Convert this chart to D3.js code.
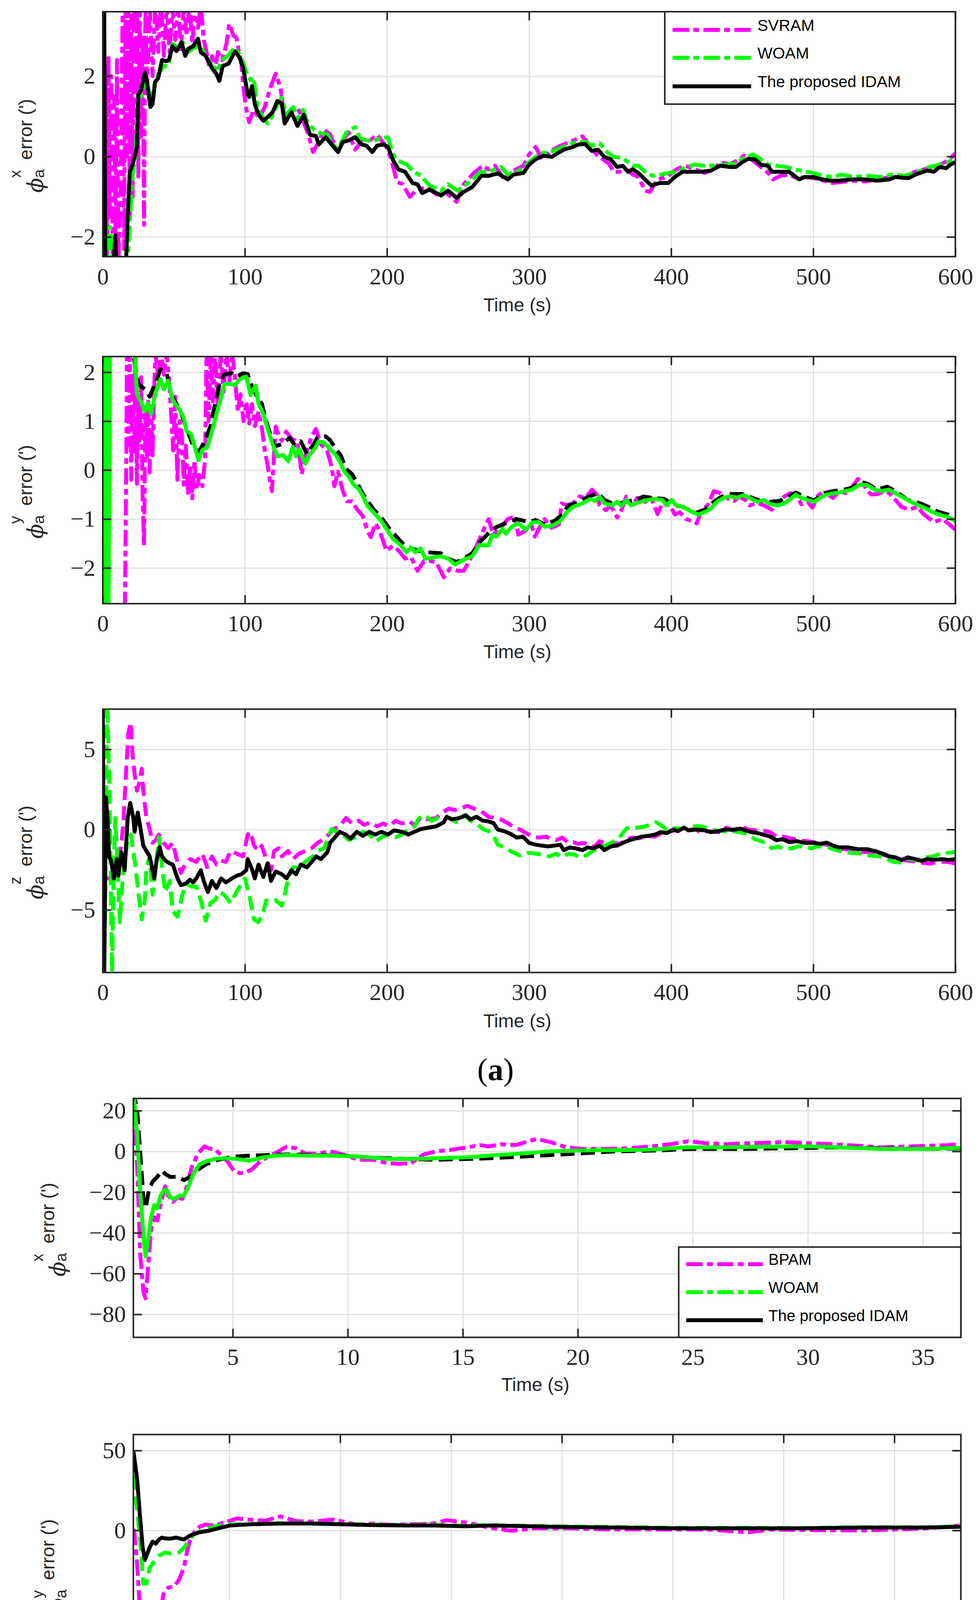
<!DOCTYPE html>
<html>
<head>
<meta charset="utf-8">
<script src="https://cdn.jsdelivr.net/npm/d3@7"></script>
<style>
  body { margin: 0; background: #fff; }
  svg { display: block; }
</style>
</head>
<body>
<svg id="chart" width="2505" height="5514"></svg>
<script>
// ---------- data: [time (s), error (')] ----------

// (a) x axis
var a1Svram = [[0,-3],[1,-3],[2,2.3],[3,-2.6],[4,2.5],[5,-1.5],[6,2.0],[7,-2.6],[8,1.5],[9,-2.0],[10,2.4],[11,-2.6],[12.5,-1.0],[14,3.8],[15,-2.3],[16,3.8],[17,0],[18,3.8],[19,-1.5],[20,3.5],[21,-1.0],[22,3.8],[23,1.0],[24,3.8],[25,-0.5],[26,3.8],[27,0.5],[28,3.0],[29,-1.7],[30,3.8],[31,1.5],[33,3.8],[35,2.0],[37,3.8],[39,2.6],[41,3.8],[43,2.5],[45,3.8],[47,2.6],[49,3.7],[51,2.9],[53,3.8],[55,2.6],[57,3.8],[59,3.0],[61,3.8],[63,2.8],[65,3.8],[67,3.2],[69,3.8],[71,2.9],[73,2.6],[75,2.2],[77,2.5],[79,2.15],[81,2.6],[84,2.4],[87,2.8],[89,3.3],[92,3.0],[94,2.96],[97.6,2.28],[99,1.7],[101,1.16],[103,0.85],[106,1.16],[110,0.95],[114,1.23],[118,1.72],[121.7,2.06],[125,1.72],[128,0.92],[132,1.13],[137,1.23],[140,0.98],[144.7,0.54],[148,0.11],[151,0.3],[155.7,0.67],[160,0.55],[164.5,0.17],[168,0.36],[173,0.6],[177.6,0.17],[183,0.42],[188.6,0.42],[193,0.54],[199.6,0.24],[203,-0.07],[207,-0.63],[211,-0.69],[216,-1.0],[221.5,-0.82],[228,-0.76],[234.6,-0.94],[243,-0.94],[249,-1.13],[254,-0.69],[261,-0.41],[267.5,-0.23],[271.5,-0.32],[276,-0.23],[282.5,-0.57],[289,-0.35],[296,-0.23],[300,0.05],[304.6,0.24],[309,-0.07],[315.6,0.14],[322,0.27],[328.7,0.36],[337.6,0.5],[342,0.3],[347.5,0.05],[352,-0.07],[356,-0.17],[359.6,-0.38],[364,-0.38],[368.4,-0.32],[373,-0.45],[377,-0.51],[381.6,-0.85],[384.9,-0.88],[390.4,-0.57],[397,-0.51],[403.6,-0.32],[410,-0.23],[416.7,-0.32],[423.5,-0.41],[430,-0.32],[434.5,-0.14],[441,-0.2],[448,-0.07],[451,0.02],[456.5,-0.07],[461,-0.2],[465.3,-0.32],[469.5,-0.45],[471.8,-0.57],[477,-0.48],[483,-0.45],[488.4,-0.54],[494,-0.51],[500.6,-0.54],[507,-0.6],[513.8,-0.66],[520.5,-0.63],[529,-0.6],[536,-0.62],[545,-0.57],[555.6,-0.51],[562,-0.51],[571.8,-0.38],[580.8,-0.29],[589,-0.2],[595,-0.1],[600,0.08]];
var a1Woam = [[0,-3],[3,-3],[4,-2.0],[5,-1.75],[6,-2.1],[7,-3],[17,-3],[19,-1.6],[21,-0.45],[23,0.0],[24,0.9],[25.5,1.4],[28,1.6],[30,1.95],[32,1.7],[34,1.35],[37,1.9],[40,2.1],[43,2.25],[46,2.25],[49,2.8],[53,2.7],[56,2.85],[60,2.6],[64,2.7],[68,2.75],[72,2.55],[76,2.3],[80,2.1],[84,2.4],[88,2.5],[93,2.71],[97,2.5],[101,2.1],[104,1.9],[106,1.97],[109,1.2],[113,0.95],[116,0.82],[120,1.05],[123,1.3],[126,1.47],[129,1.05],[134,1.23],[137,0.95],[141,1.16],[144,0.85],[147,0.73],[151,0.6],[154,0.58],[158,0.55],[162,0.3],[165,0.2],[168,0.35],[171,0.58],[174,0.65],[177.6,0.73],[181,0.45],[186,0.4],[190,0.38],[195,0.45],[200.7,0.48],[203,0.2],[206,-0.07],[210,-0.14],[214,-0.2],[218,-0.35],[223.7,-0.48],[230,-0.72],[238,-0.85],[243,-0.69],[249.6,-0.85],[257,-0.66],[266,-0.38],[271.5,-0.38],[280.4,-0.26],[285,-0.45],[293,-0.35],[300,-0.14],[307.8,0.08],[315,0.11],[324,0.24],[333,0.36],[340,0.36],[344,0.27],[349.7,0.33],[355,0.11],[359.6,-0.01],[366,-0.04],[372.8,-0.23],[377,-0.23],[381.6,-0.38],[387,-0.48],[392.6,-0.45],[398,-0.41],[403.6,-0.38],[411,-0.26],[416.5,-0.2],[423,-0.23],[430,-0.23],[439,-0.2],[445.5,-0.17],[451,-0.04],[457.6,0.05],[463,-0.07],[468,-0.2],[474,-0.23],[480.7,-0.26],[487,-0.32],[494.9,-0.38],[500,-0.41],[507,-0.48],[513.5,-0.51],[520,-0.45],[529,-0.51],[538,-0.48],[547,-0.51],[555.6,-0.45],[564.4,-0.48],[573.3,-0.38],[582,-0.26],[589,-0.2],[595,-0.14],[600,-0.04]];
var a1Idam = [[0,3.8],[1,3.8],[1.8,-3],[7,-3],[8.8,-1.96],[10,-3],[16,-3],[17.5,-1.5],[19,-0.38],[21,-0.2],[22.5,0],[24,0.24],[25,1.54],[27,1.66],[29.6,2.09],[31,1.9],[33.5,1.23],[35,1.3],[36.8,1.85],[39,1.95],[41.7,2.4],[44.5,2.37],[46.6,2.4],[49,2.74],[51.8,2.62],[55.5,2.84],[58,2.5],[60.2,2.68],[63.5,2.74],[67,2.93],[69,2.59],[72.4,2.5],[76.8,2.2],[80,2.05],[82,1.88],[84.4,2.25],[88.6,2.31],[93,2.62],[96.3,2.46],[98.7,2.22],[102,1.54],[103,1.48],[105,1.75],[107,1.3],[109.6,1.04],[113,0.89],[116,0.98],[119.5,1.1],[122.8,1.38],[126,1.31],[128,0.82],[132.7,1.1],[137,0.76],[141.4,1.04],[145.8,0.54],[150,0.51],[152,0.3],[156.8,0.48],[161,0.3],[165.6,0.11],[168.9,0.36],[173,0.4],[177.6,0.48],[182,0.3],[185.5,0.27],[189.7,0.11],[193,0.27],[197.4,0.3],[200.7,0.24],[204,-0.07],[208,-0.32],[212.7,-0.38],[218,-0.66],[221.5,-0.69],[224.8,-0.91],[230,-0.82],[238,-0.97],[243,-0.85],[249,-1.03],[254,-0.88],[260,-0.76],[266.4,-0.48],[271.5,-0.48],[278,-0.42],[285,-0.57],[289,-0.45],[296,-0.41],[300,-0.2],[304.6,-0.07],[310,0.02],[316,-0.01],[320,0.08],[324.4,0.17],[331,0.24],[335,0.3],[339.6,0.31],[344,0.14],[348.5,0.17],[353,-0.01],[357.4,-0.07],[362,-0.26],[366,-0.23],[369.5,-0.38],[373,-0.32],[377,-0.41],[381.6,-0.57],[386,-0.72],[392,-0.66],[398,-0.66],[402.5,-0.51],[408,-0.38],[414.6,-0.38],[421,-0.38],[428,-0.35],[434.5,-0.23],[441,-0.26],[445.5,-0.26],[450,-0.14],[454,-0.06],[459,-0.07],[463,-0.2],[468,-0.23],[471,-0.38],[476.7,-0.38],[483,-0.38],[490,-0.57],[494,-0.51],[500,-0.51],[505,-0.56],[511.5,-0.6],[518,-0.6],[527,-0.57],[536,-0.57],[545,-0.6],[553.5,-0.57],[558,-0.51],[567,-0.54],[571.8,-0.45],[580,-0.35],[584.8,-0.38],[589,-0.26],[593.6,-0.29],[596.6,-0.2],[600,-0.14]];

// (a) y axis
var a2Svram = [[0,-3],[15.5,-3],[16.4,-0.3],[17,2.4],[18,0.5],[19,2.4],[20,-0.2],[21,2.0],[22,0.3],[23,2.4],[24,-0.28],[25,1.5],[26,0.6],[27,1.9],[28,-0.5],[29,-1.55],[30,1.2],[31,0.2],[32,1.4],[33,-0.05],[34,1.3],[35,0.3],[36,1.5],[37,2.4],[39,1.9],[41,2.4],[43,1.95],[45,2.4],[46.5,1.9],[48,1.2],[49.5,0.4],[51,1.5],[52.5,-0.2],[54,1.0],[55.5,0.8],[57,-0.3],[58.5,0.5],[60,-0.5],[61.5,0.1],[63,-0.58],[64.5,0.2],[66,-0.4],[68,-0.1],[70,-0.33],[72,0.2],[73,2.4],[74.5,1.0],[76,2.4],[77.5,1.4],[79,2.4],[81,1.2],[83,2.4],[85,1.6],[87,2.4],[89,1.8],[91,2.4],[93,1.9],[95,1.2],[97,1.55],[99,1.0],[101,1.4],[103,0.95],[105,1.35],[107,0.9],[109.6,1.2],[112,0.85],[114,0.4],[116,0.1],[117.5,-0.2],[119,-0.43],[120.5,0.3],[121.7,0.89],[124,0.69],[126,0.6],[129,0.79],[132.7,0.64],[137,0.59],[140,-0.08],[142.5,0.28],[147,0.69],[150,0.84],[153.5,0.53],[158,0.38],[161,0.08],[163,-0.33],[165.5,-0.03],[169,-0.43],[172,-0.64],[175.4,-0.64],[178.7,-0.79],[183,-0.94],[186.4,-1.25],[188.6,-1.37],[191.9,-1.09],[195,-1.25],[199.6,-1.65],[204,-1.55],[208.4,-1.65],[212.7,-1.81],[217,-1.78],[221.5,-2.06],[226,-1.86],[230.3,-1.86],[234.6,-1.88],[240,-2.19],[244.4,-2.01],[250,-2.06],[254,-2.06],[258.8,-1.81],[263,-1.55],[267.5,-1.25],[271.5,-1.0],[274.8,-1.32],[280,-1.18],[285,-1.0],[290,-0.95],[292.4,-1.32],[296.8,-1.25],[302,-1.15],[304,-1.36],[307.8,-1.15],[311,-1.0],[315.6,-1.18],[321,-1.11],[323,-0.68],[326.6,-0.72],[331,-0.68],[335.4,-0.54],[339.8,-0.57],[344.3,-0.4],[347.6,-0.5],[349.7,-0.72],[354.1,-0.82],[357.4,-0.72],[362,-0.97],[365.4,-0.79],[368.4,-0.54],[372.8,-0.72],[376.1,-0.57],[381.6,-0.65],[386,-0.57],[390.4,-0.9],[393.7,-0.68],[399.2,-0.72],[402.6,-0.91],[406,-0.86],[410.3,-1.0],[414.6,-1.04],[418,-1.09],[421.3,-0.82],[425.7,-0.72],[430,-0.43],[434.5,-0.47],[438.9,-0.57],[444.4,-0.63],[447.7,-0.54],[452.1,-0.61],[455,-0.72],[460.8,-0.68],[465.3,-0.72],[470.8,-0.81],[474.1,-0.68],[479.6,-0.54],[484,-0.47],[488.4,-0.54],[491.7,-0.7],[496.1,-0.65],[499.4,-0.77],[502.8,-0.54],[507.2,-0.43],[510.5,-0.5],[513.8,-0.57],[518.2,-0.43],[522.6,-0.47],[527,-0.36],[531.4,-0.18],[534.7,-0.25],[538,-0.43],[541,-0.5],[545.6,-0.49],[550,-0.43],[553.4,-0.47],[557.8,-0.61],[562,-0.75],[567.5,-0.81],[573.2,-0.75],[577.6,-0.9],[582,-1.0],[585.3,-1.06],[590.8,-1.0],[595,-1.09],[600,-1.22]];
var a2Woam = [[0,-3],[1,2.6],[2,-3],[3,2.6],[4,-3],[5,2.6],[22,2.6],[23,2.1],[24,1.55],[26.5,1.42],[29.6,1.2],[31.8,1.37],[34,1.15],[37.3,1.6],[40.6,1.86],[43,1.65],[46,1.83],[49.3,1.42],[53.7,1.25],[57,1.07],[59,0.79],[62,0.74],[64.7,0.48],[67.3,0.2],[70,0.41],[73.5,0.46],[76.8,0.79],[80,1.15],[83,1.45],[85.5,1.76],[90,1.76],[93,1.73],[96.5,1.86],[101,1.91],[104,1.53],[107.5,1.73],[109.6,1.35],[113,1.15],[116,0.84],[119.5,0.53],[122.8,0.28],[127,0.31],[130.5,0.18],[133.8,0.48],[136,0.28],[138,0.43],[142.5,0.13],[145.8,0.33],[149,0.43],[152,0.59],[155.7,0.56],[160,0.43],[163.4,0.33],[166.7,0.18],[170,-0.03],[173,-0.13],[176.5,-0.3],[180,-0.38],[183,-0.53],[186.4,-0.74],[189.7,-0.84],[193,-0.94],[196,-1.04],[199.6,-1.2],[204,-1.4],[209.4,-1.53],[213.8,-1.68],[217,-1.58],[220,-1.68],[223.7,-1.6],[227,-1.81],[233.5,-1.78],[238,-1.76],[243,-1.81],[247.8,-1.93],[254,-1.83],[260,-1.76],[265,-1.53],[271.5,-1.54],[274,-1.32],[277,-1.36],[281.4,-1.2],[283.6,-1.3],[288,-1.15],[292.4,-1.09],[298,-1.22],[302,-1.07],[306.8,-1.06],[311,-1.16],[316.7,-1.13],[322,-1.04],[326.6,-0.86],[331,-0.75],[337.5,-0.68],[343,-0.59],[346.4,-0.63],[349.7,-0.54],[353,-0.68],[358.5,-0.72],[362,-0.65],[365,-0.73],[368.4,-0.61],[371.7,-0.72],[377,-0.66],[383.8,-0.61],[388,-0.59],[393.7,-0.61],[397,-0.72],[400.3,-0.61],[403.6,-0.72],[407,-0.74],[412.4,-0.82],[419,-0.91],[423.5,-0.86],[427.9,-0.79],[432,-0.65],[436.7,-0.57],[441,-0.54],[446.6,-0.56],[451,-0.51],[455,-0.57],[461,-0.65],[465.3,-0.61],[469.7,-0.7],[475,-0.72],[479.6,-0.68],[483,-0.61],[487.6,-0.5],[491.7,-0.57],[496,-0.61],[500.6,-0.65],[505,-0.56],[509.4,-0.5],[516,-0.47],[522.6,-0.43],[527,-0.4],[530.3,-0.34],[533.6,-0.29],[538,-0.31],[543.5,-0.4],[548,-0.43],[553.4,-0.4],[557.8,-0.47],[563.3,-0.56],[568.8,-0.65],[574,-0.72],[579.8,-0.79],[584,-0.86],[588.6,-0.91],[594,-0.95],[600,-1.04]];
var a2Idam = [[0,2.6],[1,-3],[2,2.6],[20,2.6],[23,2.1],[25,1.76],[29.6,1.65],[33,1.5],[37.3,1.8],[40.6,2.06],[45,1.98],[48,1.55],[54.8,1.2],[59,0.84],[64.5,0.43],[68,0.38],[72.4,0.64],[75.7,0.89],[79,1.35],[82,1.76],[85.5,1.96],[91,1.98],[94.3,1.91],[98.7,1.98],[102,1.96],[105,1.7],[108.6,1.5],[112,1.35],[115,1.0],[120.6,0.48],[126,0.53],[131.6,0.66],[135,0.51],[139.3,0.59],[143.7,0.33],[148,0.51],[151,0.66],[156.8,0.69],[160,0.61],[163,0.48],[167.8,0.28],[171,0.03],[175.4,-0.08],[178.7,-0.25],[183,-0.48],[186.4,-0.64],[190.8,-0.81],[196,-0.97],[201.8,-1.2],[207,-1.37],[212.7,-1.55],[217,-1.6],[222.6,-1.65],[228,-1.68],[233.5,-1.69],[238,-1.7],[243,-1.81],[249,-1.88],[254,-1.81],[260,-1.7],[265,-1.48],[271.5,-1.29],[276,-1.18],[281.4,-1.11],[291,-1.0],[300,-1.06],[304.6,-1.02],[311,-1.11],[317.8,-1.04],[323.3,-0.91],[327.7,-0.72],[333,-0.68],[338.6,-0.59],[344,-0.52],[348.5,-0.47],[353,-0.61],[358.5,-0.68],[364,-0.68],[370.6,-0.63],[375,-0.61],[380.5,-0.54],[387,-0.57],[395,-0.59],[402.6,-0.72],[408,-0.75],[417,-0.88],[423.5,-0.81],[430,-0.65],[434.5,-0.56],[440,-0.49],[450,-0.49],[456.5,-0.56],[463,-0.63],[469.7,-0.65],[476.3,-0.63],[480.7,-0.57],[487.6,-0.46],[494,-0.55],[500.6,-0.62],[508,-0.47],[513.8,-0.43],[520.5,-0.41],[527,-0.36],[533.6,-0.24],[539,-0.29],[544.6,-0.4],[552,-0.34],[557.8,-0.43],[566.5,-0.61],[575.3,-0.68],[580.8,-0.75],[588.6,-0.86],[595,-0.91],[600,-1.02]];

// (a) z axis
var a3Svram = [[0,6.5],[2,-3.0],[3.3,-3.04],[5.5,-3.04],[7.7,-3.2],[9.9,-2.18],[12,-1.67],[14.3,0.2],[16.4,3.62],[18,6.0],[19.7,6.69],[20.8,4.81],[22.4,3.45],[24,2.42],[26.3,3.1],[27.4,3.79],[28.5,2.42],[30.7,0.72],[33,0.03],[35,-0.82],[37.3,-0.65],[39.5,-0.31],[42.8,-0.82],[46,-1.16],[49.3,-0.82],[51.5,-1.67],[55,-2.7],[58,-2.18],[61.4,-1.84],[65.8,-2.01],[70,-1.5],[73.5,-2.35],[76.8,-1.67],[80,-2.18],[83.3,-1.93],[86.6,-2.01],[90,-1.33],[94.3,-1.5],[98.7,-1.67],[102,-0.31],[104,-0.14],[106.4,-1.0],[109.6,-1.33],[111.8,-1.0],[115,-1.84],[118.4,-2.53],[120.6,-1.33],[124,-1.16],[126,-1.67],[130.5,-1.33],[133.8,-1.84],[138,-1.5],[142.5,-1.33],[147,-1.16],[151.3,-0.82],[154.6,-0.65],[159,-0.31],[162.3,0.03],[166.7,0.2],[171,0.72],[175.4,0.38],[180,0.55],[184,0.29],[188.6,0.46],[193,0.2],[197.4,0.38],[201.8,0.2],[206,0.55],[210.5,0.38],[215,0.55],[219.3,0.29],[223.7,0.72],[228,0.63],[234.6,0.72],[239,1.06],[243.4,1.31],[247.8,1.22],[252,1.31],[256.6,1.48],[261,1.31],[266.4,1.14],[271.5,0.79],[276,0.73],[280.4,0.62],[285,0.4],[289,0.17],[293.5,0.0],[296.8,-0.16],[302.4,-0.44],[306.8,-0.5],[312.3,-0.44],[315.6,-0.61],[319,-0.66],[323.3,-0.5],[327.6,-0.83],[331,-0.78],[334.3,-0.89],[339,-0.83],[342,-1.0],[346.4,-1.05],[349.7,-0.72],[354.1,-0.89],[358.5,-0.83],[364,-0.89],[368.4,-0.61],[372.8,-0.5],[377.2,-0.55],[382.7,-0.39],[388,-0.44],[392.4,-0.27],[398,-0.16],[402.4,-0.05],[406.9,0.06],[411.3,-0.05],[416.7,0.06],[421.3,-0.22],[425.7,-0.1],[433.4,-0.16],[439,0.12],[443.3,-0.05],[449.9,0.17],[454.3,0.0],[459.1,-0.05],[464.5,-0.05],[469.7,-0.16],[474.1,-0.44],[479.6,-0.44],[484,-0.55],[488.4,-0.61],[494.9,-0.72],[500.6,-0.78],[505,-0.89],[509.4,-0.94],[516,-1.17],[522.6,-1.22],[529.2,-1.34],[535.8,-1.39],[542.4,-1.45],[549.1,-1.56],[555.7,-1.73],[562.2,-1.89],[568.8,-1.95],[575.4,-2.06],[582,-2.12],[588.6,-2.01],[595,-2.01],[600,-2.12]];
var a3Woam = [[0,-9.5],[1.5,-6],[3,8.5],[4.5,3],[5.5,-2],[6.5,-9.5],[7.5,-3],[8.8,0.72],[10,-1.5],[12,-5.77],[14.3,-2.7],[17.5,-0.65],[19.7,-0.3],[21.5,-1.33],[23,-2.35],[25.2,-4.06],[27.4,-5.6],[29.6,-4.4],[30.7,-2.35],[33,-1.67],[35,-4.06],[37.3,-2.35],[39.5,-0.48],[41.7,-2.35],[44,-3.89],[47,-3.2],[49.3,-5.09],[52.6,-5.43],[56,-4.06],[59,-3.38],[62.5,-3.55],[65.8,-3.55],[69,-4.4],[72.4,-5.68],[75.7,-4.57],[79,-4.4],[82,-3.89],[85.5,-4.06],[90,-4.57],[94,-3.89],[97.6,-3.38],[100,-3.04],[103,-4.06],[106.4,-5.6],[109.6,-5.77],[113,-5.09],[115,-4.4],[118.4,-4.48],[121.7,-4.4],[126,-4.74],[128,-4.06],[130.5,-3.04],[133.8,-2.35],[137,-2.35],[140.4,-2.18],[144.7,-1.84],[148,-1.67],[151.3,-1.33],[155.7,-1.16],[158,-0.65],[161,0.03],[164.5,-0.14],[169,-0.31],[173,-0.65],[177.6,-0.48],[183,-0.14],[187.5,-0.31],[192,-0.73],[196.3,-0.48],[200.7,-0.31],[206,-0.48],[210.5,-0.31],[215,0.03],[219.3,0.2],[222.6,0.72],[227,0.89],[231.4,0.55],[235.7,0.72],[240,0.72],[244.5,0.72],[249,0.46],[254.4,0.89],[258.8,0.55],[263,0.38],[267.5,0.03],[271.5,-0.1],[275,-0.39],[278,-0.94],[282.5,-1.11],[287,-1.34],[293.5,-1.62],[299,-1.45],[304.6,-1.5],[310,-1.56],[314.5,-1.67],[319,-1.5],[323,-1.73],[327.6,-1.5],[332,-1.56],[335.4,-1.73],[340,-1.62],[344,-1.39],[348.5,-1.11],[353,-1.0],[357.4,-0.83],[362,-0.61],[365,-0.33],[368.4,0.06],[371.7,0.17],[376.1,0.12],[380.5,0.17],[384.9,0.29],[389.3,0.45],[392.6,0.29],[395.9,0.06],[400.3,0.12],[404.7,0.06],[410,0.06],[418,0.23],[422.4,0.17],[425.7,0.06],[431,-0.05],[436.7,-0.1],[443.3,-0.1],[447.7,-0.16],[454.3,-0.27],[459,-0.61],[463.4,-0.72],[467.5,-0.94],[470.8,-1.17],[475.3,-1.05],[479.2,-1.22],[484.7,-1.17],[489.5,-1.05],[494,-1.05],[498.4,-1.17],[502.8,-1.05],[508.3,-1.05],[513.8,-1.22],[520.5,-1.39],[527,-1.45],[533.6,-1.5],[540.2,-1.62],[546.8,-1.67],[551.2,-1.84],[556.7,-2.01],[562.2,-2.06],[566.6,-1.84],[573.2,-1.89],[579.8,-1.73],[584,-1.67],[589.7,-1.5],[595,-1.45],[600,-1.39]];
var a3Idam = [[0,8],[1,-9.5],[2.2,2],[3.3,0.72],[4.5,-1.67],[6,-2.0],[7.7,-3.04],[9.9,-1.84],[11,-2.87],[13,-1.42],[15.4,-2.53],[17.5,0.72],[19.3,1.66],[21.5,0.72],[22.4,-0.14],[24.6,1.06],[26.3,0.2],[28.5,-1.0],[30.7,-1.33],[33,-1.67],[36.2,-3.04],[37.7,-2.01],[40,-1.08],[41.7,-1.67],[44,-1.93],[47,-2.1],[49.3,-2.18],[52.6,-3.04],[55,-3.46],[58,-3.38],[61.4,-3.12],[63.6,-3.29],[65.8,-3.04],[69,-2.53],[71,-3.2],[74,-3.89],[76.8,-3.2],[80,-3.64],[83.3,-3.04],[86.6,-3.29],[91,-3.04],[94.3,-2.87],[97.6,-2.78],[101,-2.53],[102,-1.84],[105.3,-2.53],[107,-3.04],[109.6,-2.18],[113,-2.95],[116,-2.1],[118.4,-3.2],[121.7,-2.61],[126,-2.78],[129.4,-3.04],[132.7,-2.53],[136,-2.78],[139.3,-2.18],[143.7,-2.35],[147,-2.01],[150.2,-1.67],[153.5,-1.84],[158,-1.42],[160,-0.82],[163.4,-0.48],[166.7,-0.14],[171,-0.31],[174.3,-0.56],[178.7,-0.14],[183,-0.39],[187.5,-0.14],[191.9,-0.31],[196,-0.14],[200.7,-0.31],[205,-0.05],[210.5,-0.14],[215,-0.31],[219.3,-0.14],[223.7,0.03],[229,0.12],[234.6,0.2],[240,0.46],[242,0.8],[245.6,0.63],[251,0.72],[255.5,0.89],[258.8,0.63],[263,0.8],[267.5,0.55],[271.5,0.51],[275,0.4],[278,0.0],[282.5,-0.1],[287,-0.27],[291.3,-0.5],[295.7,-0.44],[300,-0.83],[304.6,-0.94],[309,-1.0],[313.4,-1.05],[317.8,-1.0],[322,-0.94],[324.4,-1.28],[328.7,-1.11],[333,-1.17],[337.6,-1.28],[341,-1.11],[345.3,-1.17],[349.7,-1.0],[353,-1.28],[357.4,-1.05],[362,-1.0],[366,-0.83],[370.6,-0.66],[375,-0.55],[379.4,-0.44],[383.8,-0.39],[388,-0.33],[392.6,-0.16],[397,-0.22],[401.4,0.0],[404.7,-0.1],[409,0.12],[412.4,-0.05],[418,0.0],[423.5,-0.05],[427.9,-0.16],[433,-0.1],[437.8,0.0],[445.5,0.0],[448.8,0.06],[452,-0.05],[456.5,-0.16],[461,-0.22],[465.3,-0.33],[469.7,-0.44],[474.1,-0.66],[478.5,-0.6],[483,-0.78],[488.4,-0.72],[494,-0.83],[500.6,-0.83],[505,-0.89],[509.4,-0.81],[514,-1.0],[518,-1.11],[524.6,-1.11],[531.4,-1.22],[537.9,-1.22],[543.5,-1.34],[549,-1.5],[553.4,-1.67],[557.8,-1.73],[562.2,-1.89],[566.6,-1.73],[571.8,-1.84],[576,-1.95],[580.4,-1.84],[584,-1.89],[590.8,-1.84],[595,-1.89],[600,-1.84]];

// (b) x axis
var b1Bpam = [[0.68,26],[0.85,-8],[0.98,-50.8],[1.12,-69.2],[1.21,-72.2],[1.32,-56.9],[1.45,-38.6],[1.59,-32.4],[1.72,-34],[1.86,-26.3],[2.06,-17.1],[2.2,-21.7],[2.4,-24.8],[2.6,-22.5],[2.81,-23.3],[3.01,-17.1],[3.21,-8],[3.49,-1.1],[3.76,2.45],[3.96,1.5],[4.23,0.9],[4.5,-1.8],[4.77,-4.9],[5.04,-9.5],[5.31,-10.7],[5.58,-10.3],[5.85,-8.7],[6.12,-5.7],[6.53,-2.6],[6.94,-0.3],[7.34,2.3],[7.75,1.5],[8.16,-1.1],[8.7,-1.1],[9.24,0],[9.78,-1.5],[10.46,-4.1],[11.14,-4.1],[11.68,-5.7],[12.22,-6.1],[12.76,-5.7],[13.3,-1.5],[13.84,0],[14.5,0.8],[15.2,2.0],[15.74,3.1],[16.1,2.45],[16.7,3.5],[17.3,3.1],[18.2,6.1],[18.8,4.6],[19.5,2.0],[20.2,1.2],[21.3,1.2],[22.2,1.5],[23.2,2.45],[24.0,3.5],[24.8,5.0],[25.6,4.0],[26.5,3.5],[27.4,4.0],[28.4,4.3],[29,4.6],[30,4.0],[31.1,3.5],[32.2,2.75],[33.1,2.0],[34.1,2.3],[35.2,2.75],[36.1,3.1],[36.65,3.5]];
var b1Woam = [[0.68,30],[0.85,7.3],[0.98,-20.2],[1.12,-41.6],[1.21,-51.6],[1.32,-43.2],[1.45,-32.4],[1.59,-26.3],[1.72,-27.9],[1.86,-21.7],[2.0,-19.4],[2.13,-18.7],[2.27,-22.5],[2.47,-23.3],[2.67,-21.7],[2.88,-21.7],[3.08,-17.1],[3.28,-11.0],[3.55,-6.4],[3.83,-4.9],[4.23,-3.7],[4.64,-3.4],[5.18,-3.7],[5.72,-4.6],[6.26,-3.1],[6.8,-2.1],[7.34,-1.8],[8.43,-2.1],[9.51,-2.1],[10.46,-2.6],[11.81,-3.7],[12.9,-3.7],[13.84,-3.4],[15.2,-2.9],[16.1,-2.1],[17.5,-1.1],[18.8,0],[20.2,0.46],[21.6,0.6],[22.9,0.77],[23.7,1.2],[24.7,2.0],[26.3,2.0],[28.35,2.3],[30,2.45],[31.1,2.1],[33.1,1.2],[35.2,1.2],[36.65,1.8]];
var b1Idam = [[0.68,30],[0.85,19.6],[0.98,-0.3],[1.12,-23.3],[1.22,-27.9],[1.36,-18.7],[1.52,-14.8],[1.72,-12.5],[1.93,-9.5],[2.06,-11.0],[2.27,-12.5],[2.6,-12.5],[2.88,-14.1],[3.15,-12.5],[3.42,-9.5],[3.83,-6.4],[4.37,-4.1],[5.04,-2.6],[5.72,-2.1],[6.53,-1.8],[7.34,-1.5],[8.43,-1.8],[9.78,-2.1],[11.1,-3.1],[12.5,-3.7],[13.84,-4.1],[15.2,-3.7],[16.1,-3.4],[17.5,-2.6],[18.8,-1.8],[19.9,-1.1],[21.6,0],[23.5,0.46],[24.8,1.2],[27,1.2],[29,1.5],[31.1,2.0],[33.1,1.5],[35.2,1.2],[36.65,1.5]];

// (b) y axis
var b2Bpam = [[0.67,1],[0.73,-3.2],[0.84,-20.9],[0.98,-53.5],[1.12,-81.2],[1.19,-90],[1.29,-81.2],[1.4,-68.6],[1.54,-57.3],[1.75,-56.0],[1.89,-51.0],[2.03,-39.7],[2.24,-35.9],[2.52,-34.7],[2.73,-30.9],[2.95,-23.3],[3.09,-13.3],[3.23,-5.7],[3.44,-0.7],[3.65,2.3],[3.93,3.8],[4.2,3.1],[4.5,3.8],[4.92,5.6],[5.34,7.5],[5.9,6.8],[6.6,6.0],[7.3,8.8],[8.0,5.8],[8.7,5.5],[9.7,6.8],[10.8,3.5],[11.5,4.3],[12.2,3.5],[12.96,3.8],[13.7,4.0],[14.3,4.5],[14.8,6.4],[15.7,4.9],[16.7,1.8],[17.7,-0.2],[18.8,1.3],[20.2,1.3],[22.35,0.55],[23.8,0.55],[26.6,0.55],[28.4,-1.2],[29.4,0.55],[32.2,0],[33.6,0],[35.05,0.55],[36.5,1.3],[38,3.1]];
var b2Woam = [[0.67,34],[0.84,12.7],[0.98,-6.8],[1.05,-18.3],[1.12,-33.4],[1.26,-33.4],[1.4,-23.4],[1.61,-19.6],[1.82,-15.8],[2.1,-13.8],[2.38,-14.6],[2.73,-13.8],[2.95,-10.8],[3.16,-7.0],[3.37,-2.7],[3.65,-0.7],[4.07,1.3],[4.5,3.1],[5.0,3.8],[5.9,4.0],[7.3,4.5],[8.7,4.5],[10.1,4.0],[11.5,3.6],[13,3.3],[14.3,3.4],[15.7,2.9],[16.7,3.3],[19.5,2.6],[22.35,2.1],[25.2,1.6],[28,1.6],[30.8,1.5],[33.6,2.0],[36.5,2.0],[38,2.5]];
var b2Idam = [[0.67,50],[0.84,32],[0.97,8.8],[1.09,-10.7],[1.19,-18.5],[1.4,-10.8],[1.54,-7.0],[1.68,-8.3],[1.82,-5.7],[1.96,-4.5],[2.1,-5.0],[2.31,-5.2],[2.6,-4.5],[2.95,-5.7],[3.23,-3.2],[3.65,-1.2],[4.07,-0.2],[4.5,1.3],[5.04,3.1],[5.9,3.8],[7.3,4.3],[8.7,4.3],[10.1,3.8],[11.5,3.3],[13,3.1],[14.3,3.1],[15.7,2.6],[16.7,3.1],[19.5,2.3],[22.35,1.8],[25.2,1.3],[28,1.3],[30.8,1.3],[33.6,1.8],[36.5,1.8],[38,2.3]];

// (b) z axis
var b3Bpam = [[0.72,-67.4],[0.85,-73.1],[0.98,-89.2],[1.07,-100.7],[1.16,-116],[1.27,-100.7],[1.4,-82.3],[1.53,-76.6],[1.72,-77.7],[1.86,-70.8],[1.99,-65.1],[2.18,-65.1],[2.38,-68.5],[2.51,-69.7],[2.64,-60.5],[2.83,-52.4],[2.96,-40.9],[3.09,-24.8],[3.29,-16.8],[3.55,-14.5],[3.81,-11.0],[4.07,-6.4],[4.33,-4.1],[4.6,1.6],[4.86,5.1],[5.18,10.8],[5.44,15.4],[5.64,17.7],[5.83,15.4],[6.1,9.7],[6.35,6.2],[6.62,2.8],[7.0,0.9],[7.66,0.9],[8.44,0.5],[9.1,0.9],[9.62,-0.7],[10.27,-3.0],[10.93,-4.6],[11.57,-6.0],[12.23,-6.0],[12.88,-6.0],[13.4,-4.6],[14.05,-3.0],[14.7,-2.3],[15.6,-0.7],[16.8,-2.3],[18.2,-1.8],[20.2,-0.7],[21.9,-2.3],[23.5,-3.0],[25.0,-5.3],[27.0,-6.0],[28.2,-5.3],[30.0,-3.7],[31.3,-0.7],[32.6,-1.8],[33.9,-3.7],[35.38,-4.1]];
var b3Woam = [[0.72,-34],[0.88,-18],[1.03,0.5],[1.18,3.9],[1.33,-0.7],[1.53,-1.8],[1.72,-0.7],[1.92,-3.7],[2.18,-0.7],[2.57,0],[3.62,0],[5.05,-1.8],[6.88,-3.0],[8.18,-1.8],[10.0,-1.8],[12.1,-0.7],[14.0,-1.2],[15.6,0.5],[16.6,1.6],[17.7,4.6],[18.6,6.7],[19.5,6.2],[20.6,4.6],[21.5,2.8],[22.8,2.3],[24.1,3.2],[25.4,3.9],[26.7,3.7],[28.0,1.6],[29.3,0.9],[30.7,0.9],[32.0,0.9],[32.6,-0.7],[33.9,-0.7],[35.38,-0.7]];
var b3Idam = [[0.72,-28.3],[0.88,-13.3],[1.03,5.1],[1.18,7.4],[1.27,5.1],[1.4,1.6],[1.53,0],[1.72,0.5],[1.92,-1.4],[2.18,0.5],[2.57,0],[2.96,0],[3.62,-1.4],[4.27,-1.4],[5.05,-2.3],[5.83,-1.4],[6.88,-3.0],[8.18,-2.3],[8.97,-1.8],[10.0,-3.0],[11.45,-2.3],[12.75,-3.0],[13.4,-3.2],[14.45,-2.3],[15.6,-0.3],[16.6,-0.7],[17.7,1.6],[19.5,0.9],[21.9,-0.7],[23.5,0.5],[26.1,0],[28.0,-1.4],[30.0,-1.8],[31.3,-0.7],[32.6,-1.8],[33.9,-3.0],[35.38,-3.0]];

// ticks
var aTimeTicks = [0, 100, 200, 300, 400, 500, 600];
var bTimeTicks = [5, 10, 15, 20, 25, 30, 35];
var a1Ticks = [-2, 0, 2];
var a2Ticks = [-2, -1, 0, 1, 2];
var a3Ticks = [-5, 0, 5];
var b1Ticks = [-80, -60, -40, -20, 0, 20];
var b2Ticks = [-50, 0, 50];
var b3Ticks = [-100, -50, 0];

var aLegendNames = ['SVRAM', 'WOAM', 'The proposed IDAM'];
var bLegendNames = ['BPAM', 'WOAM', 'The proposed IDAM'];

// ---------- drawing ----------
var svg = d3.select('#chart');
svg.append('rect').attr('width', 2505).attr('height', 5514).attr('fill', '#fff');

var MAG = '#ff00ff', GRN = '#00ff00', BLK = '#000000';
var AXC = '#262626';
var dashes = { solid: null, dash: '36,16', dashdot: '42,11,15,11' };

var panels = [
    { left: 263, right: 2444.5, top: 30, bottom: 657, xDomain: [0, 600], yDomain: [-2.49, 3.6],
      xTicks: aTimeTicks, yTicks: a1Ticks, comp: 'x', labelX: 82, timeGap: 140,
      series: [ { data: a1Svram, color: MAG, style: 'dashdot' },
                { data: a1Woam, color: GRN, style: 'dashdot' },
                { data: a1Idam, color: BLK, style: 'solid' } ],
      legend: { names: aLegendNames, x0: 1701, y0: 30, x1: 2444.5, y1: 266.6, rows: [76.5, 148, 221], lx0: 1721, lx1: 1922, tx: 1938, size: 41 } },
    { left: 263, right: 2444.5, top: 912.8, bottom: 1545.4, xDomain: [0, 600], yDomain: [-2.73, 2.32],
      xTicks: aTimeTicks, yTicks: a2Ticks, comp: 'y', labelX: 82, timeGap: 140,
      series: [ { data: a2Svram, color: MAG, style: 'dashdot' },
                { data: a2Idam, color: BLK, style: 'dash' },
                { data: a2Woam, color: GRN, style: 'solid' } ] },
    { left: 263, right: 2444.5, top: 1815.4, bottom: 2489.6, xDomain: [0, 600], yDomain: [-8.9, 7.5],
      xTicks: aTimeTicks, yTicks: a3Ticks, comp: 'z', labelX: 82, timeGap: 140,
      series: [ { data: a3Svram, color: MAG, style: 'dash' },
                { data: a3Woam, color: GRN, style: 'dash' },
                { data: a3Idam, color: BLK, style: 'solid' } ] },
    { left: 341.2, right: 2458.6, top: 2812, bottom: 3423.6, xDomain: [0.68, 36.65], yDomain: [-91.3, 26],
      xTicks: bTimeTicks, yTicks: b1Ticks, comp: 'x', labelX: 139, timeGap: 137,
      series: [ { data: b1Bpam, color: MAG, style: 'dashdot' },
                { data: b1Idam, color: BLK, style: 'dash' },
                { data: b1Woam, color: GRN, style: 'solid' } ],
      legend: { names: bLegendNames, x0: 1736.6, y0: 3192.4, x1: 2458.6, y1: 3423.6, rows: [3236.3, 3308, 3379.8], lx0: 1755.8, lx1: 1952, tx: 1966.3, size: 40 } },
    { left: 341.2, right: 2458.6, top: 3672.4, bottom: 4286, xDomain: [0.67, 38.0], yDomain: [-90, 60],
      xTicks: bTimeTicks, yTicks: b2Ticks, comp: 'y', labelX: 139, timeGap: 137,
      series: [ { data: b2Bpam, color: MAG, style: 'dashdot' },
                { data: b2Woam, color: GRN, style: 'dash' },
                { data: b2Idam, color: BLK, style: 'solid' } ] },
    { left: 341.2, right: 2458.6, top: 4549.5, bottom: 5202, xDomain: [0.72, 35.38], yDomain: [-115.6, 30.1],
      xTicks: bTimeTicks, yTicks: b3Ticks, comp: 'z', labelX: 108, timeGap: 137,
      series: [ { data: b3Bpam, color: MAG, style: 'dashdot' },
                { data: b3Woam, color: GRN, style: 'dash' },
                { data: b3Idam, color: BLK, style: 'solid' } ] }
];

panels.forEach(drawPanel);

function styleGrid(sel) {
    sel.select('.domain').remove();
    sel.selectAll('line').attr('stroke', '#dfdfdf').attr('stroke-width', 3);
}

function styleAxis(sel) {
    sel.select('.domain').remove();
    sel.attr('color', AXC)
        .attr('font-family', '"Liberation Serif", "Times New Roman", serif')
        .attr('font-size', 60);
    sel.selectAll('line').attr('stroke-width', 4);
    sel.selectAll('text').attr('fill', AXC);
}

function drawPanel(p, i) {
    var w = p.right - p.left;
    var h = p.bottom - p.top;
    var x = d3.scaleLinear().domain(p.xDomain).range([p.left, p.right]);
    var y = d3.scaleLinear().domain(p.yDomain).range([p.bottom, p.top]);
    var fmt = d3.format('d');

    var g = svg.append('g').attr('class', 'panel');

    svg.append('clipPath').attr('id', 'clip' + i)
        .append('rect')
        .attr('x', p.left).attr('y', p.top)
        .attr('width', w).attr('height', h);

    // grid
    g.append('g')
        .attr('transform', 'translate(0,' + p.bottom + ')')
        .call(d3.axisBottom(x).tickValues(p.xTicks).tickSize(-h).tickFormat(''))
        .call(styleGrid);
    g.append('g')
        .attr('transform', 'translate(' + p.left + ',0)')
        .call(d3.axisLeft(y).tickValues(p.yTicks).tickSize(-w).tickFormat(''))
        .call(styleGrid);

    // lines
    var line = d3.line()
        .x(function(d) { return x(d[0]); })
        .y(function(d) { return y(d[1]); });

    g.append('g')
        .attr('clip-path', 'url(#clip' + i + ')')
        .selectAll('path')
        .data(p.series)
        .enter()
        .append('path')
        .attr('d', function(d) { return line(d.data); })
        .attr('fill', 'none')
        .attr('stroke', function(d) { return d.color; })
        .attr('stroke-width', 10)
        .attr('stroke-linejoin', 'round')
        .attr('stroke-dasharray', function(d) { return dashes[d.style]; });

    // axes, ticks inward on all four sides
    g.append('g')
        .attr('transform', 'translate(0,' + p.bottom + ')')
        .call(d3.axisBottom(x).tickValues(p.xTicks).tickSizeInner(-22).tickSizeOuter(0).tickPadding(28).tickFormat(fmt))
        .call(styleAxis);
    g.append('g')
        .attr('transform', 'translate(0,' + p.top + ')')
        .call(d3.axisTop(x).tickValues(p.xTicks).tickSizeInner(-22).tickSizeOuter(0).tickFormat(''))
        .call(styleAxis);
    g.append('g')
        .attr('transform', 'translate(' + p.left + ',0)')
        .call(d3.axisLeft(y).tickValues(p.yTicks).tickSizeInner(-22).tickSizeOuter(0).tickPadding(19).tickFormat(fmt))
        .call(styleAxis);
    g.append('g')
        .attr('transform', 'translate(' + p.right + ',0)')
        .call(d3.axisRight(y).tickValues(p.yTicks).tickSizeInner(-22).tickSizeOuter(0).tickFormat(''))
        .call(styleAxis);

    g.append('rect')
        .attr('x', p.left).attr('y', p.top)
        .attr('width', w).attr('height', h)
        .attr('fill', 'none')
        .attr('stroke', AXC)
        .attr('stroke-width', 4);

    // x label
    g.append('text')
        .attr('x', (p.left + p.right) / 2 - 30)
        .attr('y', p.bottom + p.timeGap)
        .attr('text-anchor', 'middle')
        .attr('font-family', '"Liberation Sans", Arial, sans-serif')
        .attr('font-size', 48)
        .attr('fill', AXC)
        .text('Time (s)');

    // y label: phi_a^comp error (')
    var lab = g.append('text')
        .attr('transform', 'translate(' + p.labelX + ',' + ((p.top + p.bottom) / 2 + 30) + ') rotate(-90)')
        .attr('text-anchor', 'middle')
        .attr('fill', AXC)
        .attr('font-family', '"Liberation Sans", Arial, sans-serif');
    lab.append('tspan')
        .attr('font-family', '"DejaVu Serif", serif')
        .attr('font-style', 'italic')
        .attr('font-size', 56)
        .attr('dy', 28)
        .text('\u03d5');
    lab.append('tspan').attr('font-size', 40).attr('dy', 3).text('a');
    lab.append('tspan').attr('font-size', 40).attr('dx', -22).attr('dy', -60).text(p.comp);
    lab.append('tspan').attr('font-size', 48).attr('dx', 26).attr('dy', 29).text("error (')");

    if (p.legend) drawLegend(p.legend);
}

function drawLegend(L) {
    var lg = svg.append('g').attr('class', 'legend');
    lg.append('rect')
        .attr('x', L.x0).attr('y', L.y0)
        .attr('width', L.x1 - L.x0).attr('height', L.y1 - L.y0)
        .attr('fill', '#fff')
        .attr('stroke', AXC)
        .attr('stroke-width', 4);

    var keys = [
        { color: MAG, style: 'dashdot' },
        { color: GRN, style: 'dashdot' },
        { color: BLK, style: 'solid' }
    ];

    var item = lg.selectAll('.item')
        .data(keys)
        .enter()
        .append('g')
        .attr('class', 'item');

    item.append('line')
        .attr('x1', L.lx0).attr('x2', L.lx1)
        .attr('y1', function(d, i) { return L.rows[i]; })
        .attr('y2', function(d, i) { return L.rows[i]; })
        .attr('stroke', function(d) { return d.color; })
        .attr('stroke-width', 10)
        .attr('stroke-dasharray', function(d) { return dashes[d.style]; });

    item.append('text')
        .attr('x', L.tx)
        .attr('y', function(d, i) { return L.rows[i] + 2; })
        .attr('font-family', '"Liberation Sans", Arial, sans-serif')
        .attr('font-size', L.size)
        .attr('fill', '#000')
        .text(function(d, i) { return L.names[i]; });
}

// sub-figure captions
[['a', 2765], ['b', 5474]].forEach(function(c) {
    var t = svg.append('text')
        .attr('x', 1268).attr('y', c[1])
        .attr('text-anchor', 'middle')
        .attr('font-family', '"Liberation Serif", "Times New Roman", serif')
        .attr('font-size', 80)
        .attr('fill', '#000');
    t.append('tspan').text('(');
    t.append('tspan').attr('font-weight', 'bold').text(c[0]);
    t.append('tspan').text(')');
});
</script>
</body>
</html>
